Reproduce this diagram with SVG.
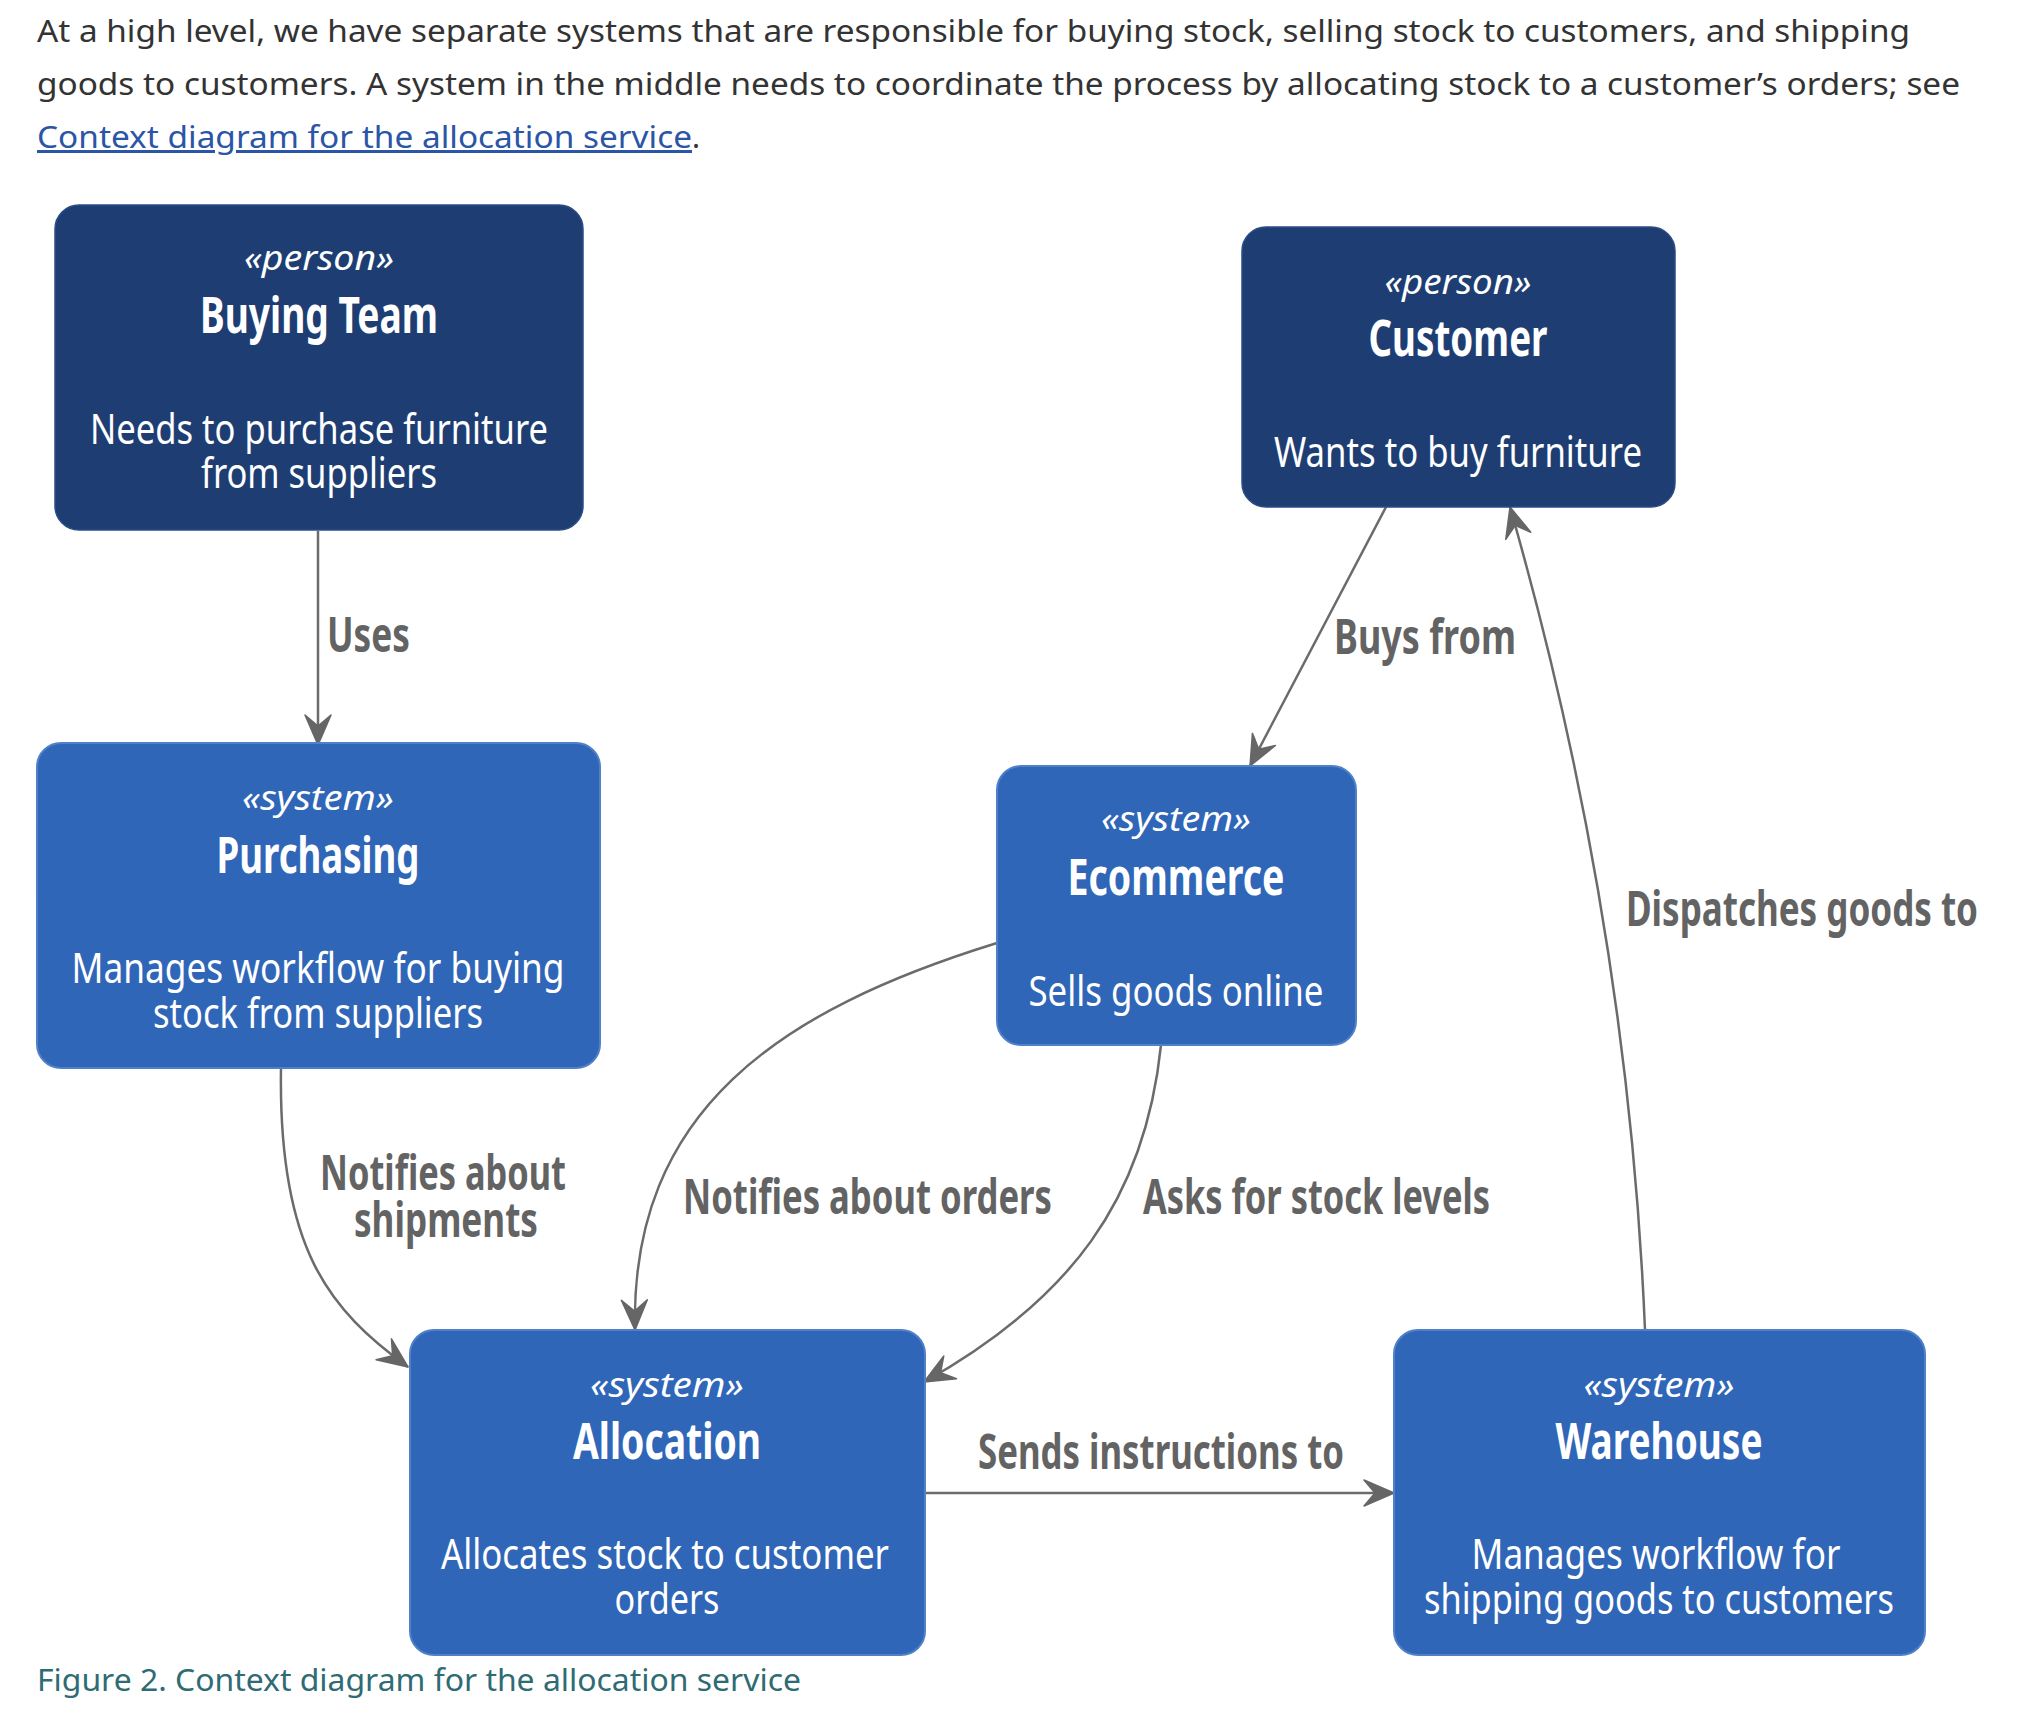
<svg xmlns="http://www.w3.org/2000/svg" width="2020" height="1712" viewBox="0 0 2020 1712">
<defs>
<style>
.para{font-family:"Noto Sans","Open Sans","Liberation Sans",sans-serif;font-size:30px;fill:#333333}
.link{fill:#2b55a6;text-decoration:underline}
.cap{font-family:"Noto Sans","Open Sans","Liberation Sans",sans-serif;font-size:31px;fill:#2f6b74}
.person{fill:#1e3e73;stroke:#2b4c85;stroke-width:1.5}
.system{fill:#3066b7;stroke:#4f80c8;stroke-width:2}
.st{font-family:"Noto Sans","Open Sans","Liberation Sans",sans-serif;font-style:italic;font-size:35px;fill:#ffffff;text-anchor:middle}
.ti{font-family:"Noto Sans","Open Sans","Liberation Sans",sans-serif;font-weight:bold;font-size:50px;fill:#ffffff;text-anchor:middle}
.de{font-family:"Noto Sans","Open Sans","Liberation Sans",sans-serif;font-size:42px;fill:#ffffff;text-anchor:middle}
.lbl{font-family:"Noto Sans","Open Sans","Liberation Sans",sans-serif;font-weight:bold;font-size:48px;fill:#636363}
.edge{fill:none;stroke:#6b6b6b;stroke-width:2.5;marker-end:url(#arr)}
</style>
<marker id="arr" markerUnits="userSpaceOnUse" markerWidth="36" markerHeight="32" viewBox="-33 -16 36 32" refX="0" refY="0" orient="auto">
<path d="M0,0 L-30,-13 L-19,0 L-30,13 Z" fill="#666666" stroke="#666666" stroke-width="1.5" stroke-linejoin="round"/>
</marker>
</defs>
<rect width="2020" height="1712" fill="#ffffff"/>

<g id="intro">
<text class="para" x="37" y="42" textLength="1873" lengthAdjust="spacingAndGlyphs">At a high level, we have separate systems that are responsible for buying stock, selling stock to customers, and shipping</text>
<text class="para" x="37" y="95" textLength="1923" lengthAdjust="spacingAndGlyphs">goods to customers. A system in the middle needs to coordinate the process by allocating stock to a customer’s orders; see</text>
<text class="para" x="37" y="148"><tspan class="link" textLength="655" lengthAdjust="spacingAndGlyphs">Context diagram for the allocation service</tspan><tspan>.</tspan></text>
</g>

<g id="connectors">
<path id="e-uses" class="edge" d="M318,531 L318,745"/>
<path id="e-buys" class="edge" d="M1386,507 L1250,766"/>
<path id="e-dispatch" class="edge" d="M1645,1330 Q1628,918 1510,507"/>
<path id="e-orders" class="edge" d="M997,943 C780,1010 630,1110 635,1330"/>
<path id="e-stock" class="edge" d="M1161,1045 C1145,1200 1070,1300 924,1382"/>
<path id="e-ship" class="edge" d="M281,1068 C278,1250 330,1310 408,1367"/>
<path id="e-send" class="edge" d="M925,1493 L1394,1493"/>
<text class="lbl" x="327" y="652" textLength="83" lengthAdjust="spacingAndGlyphs">Uses</text>
<text class="lbl" x="1334" y="654" textLength="182" lengthAdjust="spacingAndGlyphs">Buys from</text>
<text class="lbl" x="1626" y="926" textLength="352" lengthAdjust="spacingAndGlyphs">Dispatches goods to</text>
<text class="lbl" x="320" y="1190" textLength="246" lengthAdjust="spacingAndGlyphs">Notifies about</text>
<text class="lbl" x="354" y="1237" textLength="184" lengthAdjust="spacingAndGlyphs">shipments</text>
<text class="lbl" x="683" y="1214" textLength="369" lengthAdjust="spacingAndGlyphs">Notifies about orders</text>
<text class="lbl" x="1143" y="1214" textLength="347" lengthAdjust="spacingAndGlyphs">Asks for stock levels</text>
<text class="lbl" x="978" y="1469" textLength="366" lengthAdjust="spacingAndGlyphs">Sends instructions to</text>
</g>

<g id="buying-team">
<rect class="person" x="55" y="205" width="528" height="325" rx="24"/>
<text class="st" x="319" y="270" textLength="150" lengthAdjust="spacingAndGlyphs">«person»</text>
<text class="ti" x="319" y="333" textLength="238" lengthAdjust="spacingAndGlyphs">Buying Team</text>
<text class="de" x="319" y="444" textLength="458" lengthAdjust="spacingAndGlyphs">Needs to purchase furniture</text>
<text class="de" x="319" y="488" textLength="236" lengthAdjust="spacingAndGlyphs">from suppliers</text>
</g>

<g id="customer">
<rect class="person" x="1242" y="227" width="433" height="280" rx="24"/>
<text class="st" x="1458" y="294" textLength="147" lengthAdjust="spacingAndGlyphs">«person»</text>
<text class="ti" x="1458" y="356" textLength="179" lengthAdjust="spacingAndGlyphs">Customer</text>
<text class="de" x="1458" y="467" textLength="368" lengthAdjust="spacingAndGlyphs">Wants to buy furniture</text>
</g>

<g id="purchasing">
<rect class="system" x="37" y="743" width="563" height="325" rx="24"/>
<text class="st" x="318" y="810" textLength="152" lengthAdjust="spacingAndGlyphs">«system»</text>
<text class="ti" x="318" y="873" textLength="203" lengthAdjust="spacingAndGlyphs">Purchasing</text>
<text class="de" x="318" y="983" textLength="493" lengthAdjust="spacingAndGlyphs">Manages workflow for buying</text>
<text class="de" x="318" y="1028" textLength="330" lengthAdjust="spacingAndGlyphs">stock from suppliers</text>
</g>

<g id="ecommerce">
<rect class="system" x="997" y="766" width="359" height="279" rx="24"/>
<text class="st" x="1176" y="831" textLength="150" lengthAdjust="spacingAndGlyphs">«system»</text>
<text class="ti" x="1176" y="895" textLength="217" lengthAdjust="spacingAndGlyphs">Ecommerce</text>
<text class="de" x="1176" y="1006" textLength="295" lengthAdjust="spacingAndGlyphs">Sells goods online</text>
</g>

<g id="allocation">
<rect class="system" x="410" y="1330" width="515" height="325" rx="24"/>
<text class="st" x="667" y="1397" textLength="154" lengthAdjust="spacingAndGlyphs">«system»</text>
<text class="ti" x="667" y="1459" textLength="188" lengthAdjust="spacingAndGlyphs">Allocation</text>
<text class="de" x="665" y="1569" textLength="448" lengthAdjust="spacingAndGlyphs">Allocates stock to customer</text>
<text class="de" x="667" y="1614" textLength="105" lengthAdjust="spacingAndGlyphs">orders</text>
</g>

<g id="warehouse">
<rect class="system" x="1394" y="1330" width="531" height="325" rx="24"/>
<text class="st" x="1659" y="1397" textLength="151" lengthAdjust="spacingAndGlyphs">«system»</text>
<text class="ti" x="1659" y="1459" textLength="207" lengthAdjust="spacingAndGlyphs">Warehouse</text>
<text class="de" x="1656" y="1569" textLength="369" lengthAdjust="spacingAndGlyphs">Manages workflow for</text>
<text class="de" x="1659" y="1614" textLength="470" lengthAdjust="spacingAndGlyphs">shipping goods to customers</text>
</g>

<g id="caption">
<text class="cap" x="37" y="1691" textLength="764" lengthAdjust="spacingAndGlyphs">Figure 2. Context diagram for the allocation service</text>
</g>
</svg>
